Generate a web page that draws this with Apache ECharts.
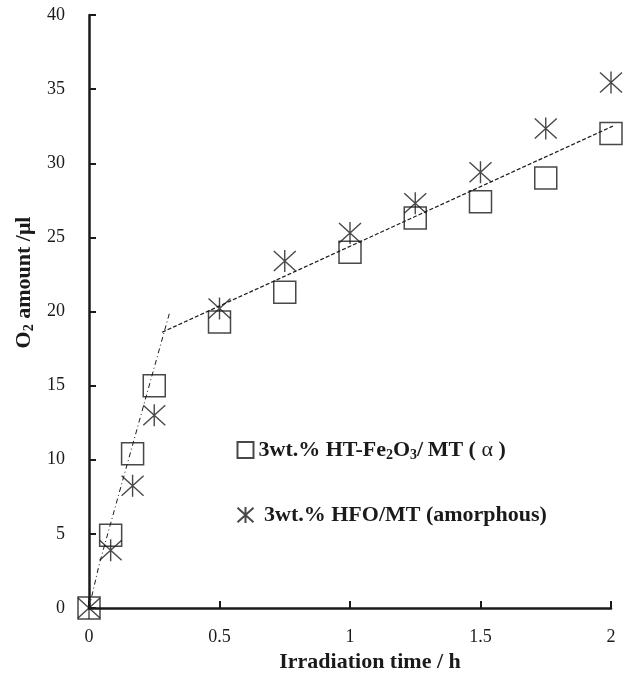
<!DOCTYPE html>
<html>
<head>
<meta charset="utf-8">
<script src="https://cdn.jsdelivr.net/npm/echarts@6/dist/echarts.min.js"></script>
<style>
  html, body { margin: 0; padding: 0; background: #fff; }
  #chart { width: 625px; height: 674px; }
</style>
</head>
<body>
<div id="chart"></div>
<script>
// Irradiation time (h)
const times = [0, 0.083, 0.167, 0.25, 0.5, 0.75, 1.0, 1.25, 1.5, 1.75, 2.0];
// O2 evolved (µl)
const htFe2O3 = [0, 4.9, 10.4, 15.0, 19.3, 21.3, 24.0, 26.3, 27.4, 29.0, 32.0];
const hfo = [0, 3.9, 8.25, 13.0, 20.2, 23.4, 25.3, 27.3, 29.4, 32.35, 35.45];

// Guide lines: initial fast rise and later slow linear regime
const fastX = [0, 0.04, 0.31];
const fastY = [0, 3.0, 20.0];
const slowX = [0.28, 2.05];
const slowY = [18.6, 32.85];

const xTicks = [0, 0.5, 1, 1.5, 2];
const yTicks = [0, 5, 10, 15, 20, 25, 30, 35, 40];

const seriesNames = ['3wt.% HT-Fe2O3/MT (α)', '3wt.% HFO/MT (amorphous)'];

const FONT = "'Liberation Serif', 'Times New Roman', serif";
const INK = '#1a1a1a';
const STAR = 'path://M0,1L22,21M22,1L0,21M11,0L11,22';

const pairs = (xs, ys) => xs.map((x, i) => [x, ys[i]]);

const chart = echarts.init(document.getElementById('chart'), null, { renderer: 'canvas' });

chart.setOption({
  animation: false,
  backgroundColor: '#fff',
  grid: { left: 89, right: 14, top: 15, bottom: 66, outerBoundsMode: 'none', containLabel: false },
  xAxis: {
    type: 'value',
    min: xTicks[0], max: xTicks[xTicks.length - 1], interval: 0.5,
    axisLine: { show: true, onZero: false, lineStyle: { color: INK, width: 2.5 } },
    axisTick: { show: true, inside: true, length: 7, lineStyle: { color: INK, width: 2 } },
    splitLine: { show: false },
    axisLabel: { color: INK, fontFamily: FONT, fontSize: 18, margin: 20 },
    name: 'Irradiation time / h',
    nameLocation: 'middle',
    nameGap: 42,
    nameTextStyle: { color: INK, fontFamily: FONT, fontSize: 22, fontWeight: 'bold', padding: [0, 0, 0, 40] }
  },
  yAxis: {
    type: 'value',
    min: yTicks[0], max: yTicks[yTicks.length - 1], interval: 5,
    axisLine: { show: true, onZero: false, lineStyle: { color: INK, width: 2.5 } },
    axisTick: { show: true, inside: true, length: 7, lineStyle: { color: INK, width: 2 } },
    splitLine: { show: false },
    axisLabel: { color: INK, fontFamily: FONT, fontSize: 18, margin: 24 },
    name: '{b|O}{s|2}{b| amount /μl}',
    nameLocation: 'middle',
    nameRotate: 90,
    nameGap: 52,
    nameTextStyle: {
      color: INK, fontFamily: FONT, fontSize: 22, fontWeight: 'bold',
      padding: [0, 0, 0, 58],
      rich: {
        b: { color: INK, fontFamily: FONT, fontSize: 22, fontWeight: 'bold' },
        s: { color: INK, fontFamily: FONT, fontSize: 14, fontWeight: 'bold', padding: [10, 0, 0, 0] }
      }
    }
  },
  legend: {
    orient: 'vertical',
    left: 235,
    top: 437,
    padding: 0,
    itemWidth: 16,
    itemHeight: 16,
    itemGap: 39,
    data: seriesNames,
    formatter: function (name) {
      if (name === seriesNames[0]) {
        return '{t|3wt.% HT-Fe}{s|2}{t|O}{s|3}{t|/\u2009MT ( }{g|α}{t| )}';
      }
      return '{t| 3wt.% HFO/MT (amorphous)}';
    },
    textStyle: {
      color: INK, fontFamily: FONT, fontSize: 22, fontWeight: 'bold', lineHeight: 26,
      rich: {
        t: { color: INK, fontFamily: FONT, fontSize: 22, fontWeight: 'bold', lineHeight: 26 },
        s: { color: INK, fontFamily: FONT, fontSize: 14, fontWeight: 'bold', padding: [10, 0, 0, 0] },
        g: { color: INK, fontFamily: FONT, fontSize: 22, fontWeight: 'normal', lineHeight: 26 }
      }
    }
  },
  series: [
    {
      name: 'fast',
      type: 'line',
      data: pairs(fastX, fastY),
      showSymbol: false,
      symbol: 'none',
      clip: false,
      silent: true,
      lineStyle: { color: INK, width: 1, type: [5, 3, 1, 3] },
      z: 1
    },
    {
      name: 'slow',
      type: 'line',
      data: pairs(slowX, slowY),
      showSymbol: false,
      symbol: 'none',
      clip: false,
      silent: true,
      lineStyle: { color: INK, width: 1.2, type: [4, 2] },
      z: 1
    },
    {
      name: seriesNames[0],
      type: 'scatter',
      data: pairs(times, htFe2O3),
      symbol: 'rect',
      symbolSize: 22,
      clip: false,
      itemStyle: { color: 'transparent', borderColor: INK, borderWidth: 1.5 },
      z: 3
    },
    {
      name: seriesNames[1],
      type: 'scatter',
      data: pairs(times, hfo),
      symbol: STAR,
      symbolSize: [22, 22],
      clip: false,
      itemStyle: { color: 'none', borderColor: INK, borderWidth: 1.4 },
      z: 3
    }
  ]
});
</script>
</body>
</html>
